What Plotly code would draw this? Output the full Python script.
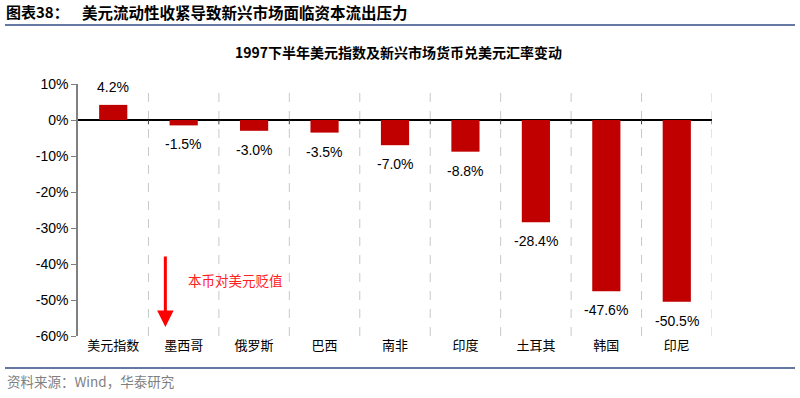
import plotly.graph_objects as go

categories = ["美元指数", "墨西哥", "俄罗斯", "巴西", "南非", "印度", "土耳其", "韩国", "印尼"]
values = [4.2, -1.5, -3.0, -3.5, -7.0, -8.8, -28.4, -47.6, -50.5]
tick_vals = [10, 0, -10, -20, -30, -40, -50, -60]
tick_text = ["10%", "0%", "-10%", "-20%", "-30%", "-40%", "-50%", "-60%"]

W, H = 800, 398
L, R, T, B = 78, 88, 84, 62
pw, ph = W - L - R, H - T - B

def px_x(x):
    return (x - L) / pw

def px_y(y):
    return (H - B - y) / ph

CJK = "Noto Sans CJK SC"
LAT = "Liberation Sans, Arial"

xs = list(range(len(categories)))

fig = go.Figure()
fig.add_trace(go.Bar(
    x=xs, y=values,
    marker=dict(color="#C00000", line=dict(width=0)),
    width=0.4,
    hoverinfo="skip",
))

shapes = []
# header rule and footer rule
for yy in (25, 368):
    for lay in ("below", "above"):
        shapes.append(dict(type="line", xref="paper", yref="paper", x0=px_x(5), x1=px_x(795),
                           y0=px_y(yy), y1=px_y(yy), layer=lay,
                           line=dict(color="#5B6F9E", width=1.5)))
# vertical dashed gridlines at category boundaries
for i in xs:
    shapes.append(dict(type="line", xref="x", yref="y", x0=i + 0.5, x1=i + 0.5, y0=-60, y1=10,
                       line=dict(color="#C8C8C8", width=1, dash="dash"), layer="below"))
# small tick marks along the zero line at category boundaries
for i in xs:
    shapes.append(dict(type="line", xref="x", yref="y", x0=i + 0.5, x1=i + 0.5,
                       y0=0, y1=-1.2, line=dict(color="#404040", width=1)))

annotations = [
    dict(xref="paper", yref="paper", x=px_x(5), y=px_y(12), xanchor="left", yanchor="middle",
         text="<b>图表38：</b>", showarrow=False, borderpad=0,
         font=dict(family=CJK, size=15, color="#000000")),
    dict(xref="paper", yref="paper", x=px_x(81), y=px_y(12), xanchor="left", yanchor="middle",
         text="<b>美元流动性收紧导致新兴市场面临资本流出压力</b>", showarrow=False, borderpad=0,
         font=dict(family=CJK, size=15.5, color="#000000")),
    dict(xref="paper", yref="paper", x=px_x(398), y=px_y(52), xanchor="center", yanchor="middle",
         text="<b>1997下半年美元指数及新兴市场货币兑美元汇率变动</b>", showarrow=False,
         font=dict(family=CJK, size=14, color="#000000")),
    dict(xref="paper", yref="paper", x=px_x(5), y=px_y(381), xanchor="left", yanchor="middle",
         text="资料来源：Wind，华泰研究", showarrow=False,
         font=dict(family=CJK, size=13.5, color="#7F7F7F")),
    # arrow
    dict(xref="x", yref="y", axref="x", ayref="y", x=0.74, y=-57.5, ax=0.74, ay=-37.5,
         text="", showarrow=True, arrowhead=2, arrowsize=1.1, arrowwidth=3, arrowcolor="#FF0000"),
    dict(xref="x", yref="y", x=1.73, y=-44.5, xanchor="center", yanchor="middle",
         text="本币对美元贬值", showarrow=False,
         font=dict(family=CJK, size=13.5, color="#FF2020")),
]
# value labels
for x, v in zip(xs, values):
    annotations.append(dict(
        xref="x", yref="y", x=x, y=v, text=f"{v:.1f}%", showarrow=False,
        xanchor="center", yanchor="bottom" if v >= 0 else "top",
        yshift=8 if v >= 0 else -9,
        font=dict(family=LAT, size=14, color="#000000"),
    ))

fig.update_layout(
    width=W, height=H,
    margin=dict(l=L, r=R, t=T, b=B),
    paper_bgcolor="white", plot_bgcolor="white",
    showlegend=False, hovermode=False,
    shapes=shapes, annotations=annotations,
)
fig.update_xaxes(
    range=[-0.5, len(categories) - 0.5],
    tickmode="array", tickvals=xs, ticktext=categories,
    showgrid=False, showline=False, ticks="",
    tickfont=dict(family=CJK, size=13, color="#000000"),
    zeroline=False,
)
fig.update_yaxes(
    range=[-60, 10], tickmode="array", tickvals=tick_vals, ticktext=tick_text,
    showgrid=False, showline=True, linecolor="#808080", linewidth=1.5,
    ticks="outside", ticklen=5, tickcolor="#808080",
    tickfont=dict(family=LAT, size=14, color="#000000"),
    zeroline=True, zerolinecolor="#000000", zerolinewidth=1.5,
)

fig.write_html("out.html", config={"displayModeBar": False},
               post_script="document.body.style.margin='0';document.body.style.padding='0';")
